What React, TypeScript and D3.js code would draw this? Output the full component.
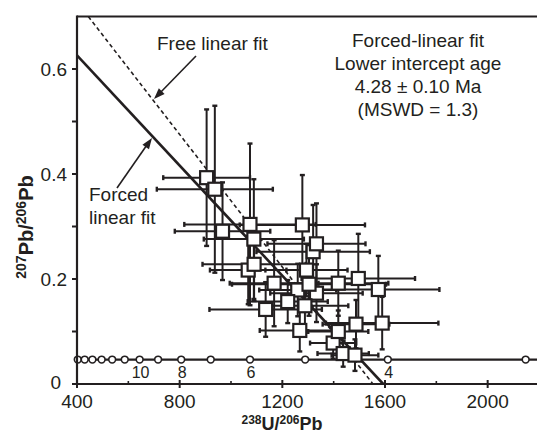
import React from 'react';
import * as d3 from 'd3';

// Data points (238U/206Pb, 207Pb/206Pb) with half widths of the error bars
const pointX = [905, 937, 1074, 1278, 967, 1089, 1320, 1333, 1067, 1090, 1333, 1260, 1294, 1168, 1304, 1418, 1496, 1574, 1135, 1221, 1288, 1268, 1398, 1437, 1418, 1487, 1589, 1483];
const pointY = [0.393, 0.371, 0.304, 0.303, 0.291, 0.276, 0.252, 0.267, 0.217, 0.228, 0.173, 0.179, 0.217, 0.192, 0.19, 0.192, 0.201, 0.18, 0.142, 0.157, 0.149, 0.102, 0.078, 0.058, 0.1, 0.114, 0.116, 0.055];
const errX = [169, 226, 256, 244, 186, 195, 221, 191, 149, 201, 180, 150, 160, 173, 300, 195, 221, 238, 219, 156, 169, 156, 90, 100, 117, 130, 219, 91];
const errY = [0.13, 0.159, 0.154, 0.095, 0.093, 0.114, 0.089, 0.077, 0.065, 0.07, 0.055, 0.05, 0.05, 0.082, 0.06, 0.062, 0.085, 0.064, 0.052, 0.041, 0.05, 0.04, 0.03, 0.025, 0.04, 0.046, 0.05, 0.03];

// Concordia age markers (238U/206Pb)
const concordiaX = [403, 430, 460, 496, 537, 586, 644, 716, 806, 921, 1074, 1289, 1611, 2148];
const concordiaY = 0.0465;
const ageLabels = ['10', '8', '6', '4'];
const ageLabelX = [644, 806, 1074, 1611];

// Fit lines (endpoints in data units)
const forcedFitX = [400, 1593];
const forcedFitY = [0.626, 0];
const freeFitX = [444, 1553];
const freeFitY = [0.7, 0];

const xTicks = [400, 800, 1200, 1600, 2000];
const xMinorTicks = [600, 1000, 1400, 1800];
const yTicks = [0, 0.2, 0.4, 0.6];
const yMinorTicks = [0.1, 0.3, 0.5];

const annotationLines = ['Forced-linear fit', 'Lower intercept age', '4.28 \u00b1 0.10 Ma', '(MSWD = 1.3)'];

const W = 537;
const H = 434;
const INK = '#231f20';
const FONT = '"Liberation Sans", Arial, Helvetica, sans-serif';

export default function App() {
  const x = d3.scaleLinear().domain([400, 2200]).range([77, 539]);
  const y = d3.scaleLinear().domain([0, 0.7]).range([384, 16.5]);
  const left = x(400);
  const right = x(2200);
  const top = y(0.7);
  const bottom = y(0);
  const line = d3.line<[number, number]>().x((d) => x(d[0])).y((d) => y(d[1]));
  const forced: [number, number][] = forcedFitX.map((v, i) => [v, forcedFitY[i]]);
  const free: [number, number][] = freeFitX.map((v, i) => [v, freeFitY[i]]);
  const sq = 13;
  const cap = 2.5;

  const arrowHead = (x1: number, y1: number, x2: number, y2: number) => {
    const a = Math.atan2(y2 - y1, x2 - x1);
    const L = 11, w = 4;
    const bx = x2 - L * Math.cos(a), by = y2 - L * Math.sin(a);
    const px = -Math.sin(a) * w, py = Math.cos(a) * w;
    return `M${x2},${y2}L${bx + px},${by + py}L${bx - px},${by - py}Z`;
  };

  return (
    <svg width={W} height={H} style={{ position: 'absolute', left: 0, top: 0, background: '#fff' }} fontFamily={FONT}>
      <defs>
        <clipPath id="plot">
          <rect x={left} y={top} width={right - left} height={bottom - top} />
        </clipPath>
      </defs>
      <rect x={0} y={0} width={W} height={H} fill="#fff" />

      {/* fit lines */}
      <g clipPath="url(#plot)">
        <path d={line(forced) || ''} stroke={INK} strokeWidth={2.6} fill="none" />
        <path d={line(free) || ''} stroke={INK} strokeWidth={1.6} strokeDasharray="4,3" fill="none" />
      </g>

      {/* concordia */}
      <line x1={left} x2={right} y1={y(concordiaY)} y2={y(concordiaY)} stroke={INK} strokeWidth={2.2} />
      {concordiaX.map((v, i) => (
        <circle key={'c' + i} cx={x(v)} cy={y(concordiaY)} r={3.4} fill="#fff" stroke={INK} strokeWidth={1.6} />
      ))}
      {ageLabels.map((t, i) => (
        <text key={'a' + i} x={x(ageLabelX[i]) + 1} y={378} fontSize={16} textAnchor="middle" fill={INK}>{t}</text>
      ))}

      {/* error bars */}
      <g stroke={INK} strokeWidth={2} fill="none">
        {pointX.map((v, i) => {
          const cx = x(v), cy = y(pointY[i]);
          const x0 = x(v - errX[i]), x1 = x(v + errX[i]);
          const y0 = y(pointY[i] - errY[i]), y1 = y(pointY[i] + errY[i]);
          return (
            <g key={'e' + i}>
              <line x1={x0} x2={x1} y1={cy} y2={cy} />
              <line x1={cx} x2={cx} y1={y0} y2={y1} />
              <line x1={x0} x2={x0} y1={cy - cap} y2={cy + cap} strokeWidth={2.4} />
              <line x1={x1} x2={x1} y1={cy - cap} y2={cy + cap} strokeWidth={2.4} />
              <line x1={cx - cap} x2={cx + cap} y1={y0} y2={y0} strokeWidth={2.4} />
              <line x1={cx - cap} x2={cx + cap} y1={y1} y2={y1} strokeWidth={2.4} />
            </g>
          );
        })}
      </g>
      {/* squares */}
      {pointX.map((v, i) => (
        <rect key={'s' + i} x={x(v) - sq / 2} y={y(pointY[i]) - sq / 2} width={sq} height={sq} fill="#fff" stroke={INK} strokeWidth={2.2} />
      ))}

      {/* axes frame */}
      <line x1={left} x2={right} y1={top} y2={top} stroke={INK} strokeWidth={2.2} />
      <line x1={left} x2={left} y1={top - 1} y2={bottom + 1} stroke={INK} strokeWidth={2.2} />
      <line x1={left - 5} x2={right} y1={bottom} y2={bottom} stroke={INK} strokeWidth={2.2} />

      {/* x ticks */}
      {xTicks.map((t) => (
        <g key={'xt' + t}>
          <line x1={x(t)} x2={x(t)} y1={bottom - 4} y2={bottom + 4} stroke={INK} strokeWidth={2} />
          <text x={x(t)} y={408} fontSize={19} textAnchor="middle" fill={INK}>{t}</text>
        </g>
      ))}
      {xMinorTicks.map((t) => (
        <line key={'xm' + t} x1={x(t)} x2={x(t)} y1={bottom - 3} y2={bottom} stroke={INK} strokeWidth={1.6} />
      ))}

      {/* y ticks */}
      {yTicks.map((t) => (
        <g key={'yt' + t}>
          <line x1={left - 5} x2={left} y1={y(t)} y2={y(t)} stroke={INK} strokeWidth={2} />
          <text x={t === 0 ? 61 : 67} y={y(t) + (t === 0 ? 5 : 7)} fontSize={19} textAnchor="end" fill={INK}>{t === 0 ? '0' : t.toFixed(1)}</text>
        </g>
      ))}
      {yMinorTicks.map((t) => (
        <line key={'ym' + t} x1={left - 5} x2={left} y1={y(t)} y2={y(t)} stroke={INK} strokeWidth={2} />
      ))}

      {/* axis titles */}
      <text x={282} y={430} textAnchor="middle" fontWeight="bold" fill={INK} fontSize={18}>
        <tspan fontSize={12} dy={-6}>238</tspan>
        <tspan dy={6}>U/</tspan>
        <tspan fontSize={12} dy={-6}>206</tspan>
        <tspan dy={6}>Pb</tspan>
      </text>
      <text transform={`translate(33,227) rotate(-90)`} textAnchor="middle" fontWeight="bold" fill={INK} fontSize={20}>
        <tspan fontSize={14} dy={-7}>207</tspan>
        <tspan dy={7}>Pb/</tspan>
        <tspan fontSize={14} dy={-7}>206</tspan>
        <tspan dy={7}>Pb</tspan>
      </text>

      {/* annotations */}
      <text x={157} y={50} fontSize={19} fill={INK}>Free linear fit</text>
      <line x1={196} y1={56} x2={158} y2={95} stroke={INK} strokeWidth={1.6} />
      <path d={arrowHead(196, 56, 154, 99)} fill={INK} />
      <text x={89} y={201} fontSize={19} fill={INK}>Forced</text>
      <text x={89} y={224} fontSize={19} fill={INK}>linear fit</text>
      <line x1={117} y1={188} x2={149} y2={142} stroke={INK} strokeWidth={1.6} />
      <path d={arrowHead(117, 188, 152, 138)} fill={INK} />
      {annotationLines.map((t, i) => (
        <text key={'n' + i} x={418} y={47 + i * 23} fontSize={19} textAnchor="middle" fill={INK}>{t}</text>
      ))}
    </svg>
  );
}
